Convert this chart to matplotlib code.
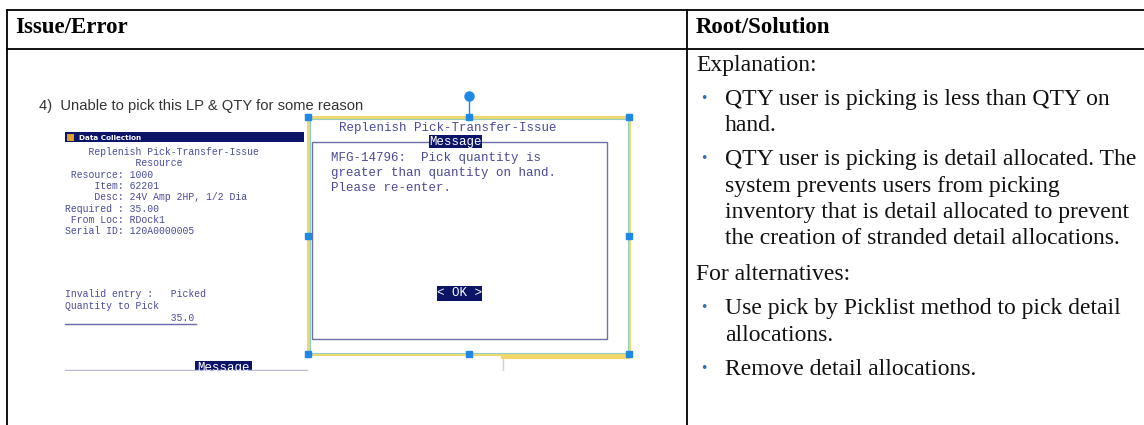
import matplotlib.pyplot as plt
from matplotlib.patches import Rectangle

# table text
headers = ["Issue/Error", "Root/Solution"]
caption = "4)  Unable to pick this LP & QTY for some reason"
screen_title = "Data Collection"
screen_lines = ["    Replenish Pick-Transfer-Issue", "            Resource",
                " Resource: 1000", "     Item: 62201",
                "     Desc: 24V Amp 2HP, 1/2 Dia", "Required : 35.00",
                " From Loc: RDock1", "Serial ID: 120A0000005"]
entry_lines = ["Invalid entry :   Picked", "Quantity to Pick", "                  35.0"]
dialog_title = "Replenish Pick-Transfer-Issue"
dialog_lines = ["MFG-14796:  Pick quantity is", "greater than quantity on hand.",
                "Please re-enter."]
explanation = "Explanation:"
explanation_items = [["QTY user is picking is less than QTY on", "hand."],
                     ["QTY user is picking is detail allocated. The",
                      "system prevents users from picking",
                      "inventory that is detail allocated to prevent",
                      "the creation of stranded detail allocations."]]
alternatives = "For alternatives:"
alternative_items = [["Use pick by Picklist method to pick detail", "allocations."],
                     ["Remove detail allocations."]]

W, H = 1144, 425
fig = plt.figure(figsize=(W / 100, H / 100), dpi=100)
ax = fig.add_axes([0, 0, 1, 1])
ax.set_xlim(0, W)
ax.set_ylim(H, 0)
ax.axis('off')

serif = 'Liberation Serif'
mono = 'Liberation Mono'
sans = 'Liberation Sans'
navy = '#0b1466'
ink = '#4a4a9a'

# table frame
lc = 'black'
ax.plot([7, W], [10, 10], color=lc, lw=1.3, zorder=10)
ax.plot([7, W], [49, 49], color=lc, lw=1.3, zorder=10)
ax.plot([7, 7], [10, H], color=lc, lw=1.3, zorder=10)
ax.plot([687, 687], [10, H], color=lc, lw=1.3, zorder=10)

ax.text(15, 33, headers[0], family=serif, weight='bold', fontsize=16.5, va='baseline')
ax.text(696, 33, headers[1], family=serif, weight='bold', fontsize=16.5, va='baseline')

# ---- left cell: screenshot ----
ax.text(39, 110, caption, family=sans, fontsize=10.6, color='#333333', va='baseline')

# data collection window
ax.add_patch(Rectangle((65, 132), 239, 10, facecolor=navy, edgecolor='none'))
ax.add_patch(Rectangle((67, 133.5), 7, 7, facecolor='#e0a030', edgecolor='none'))
ax.text(79, 137.5, screen_title, family='DejaVu Sans', weight='bold', fontsize=5.2,
        color='white', va='center')
for i, s in enumerate(screen_lines):
    ax.text(65, 152 + i * 11.3, s, family=mono, fontsize=7, color=ink, va='center')
for i, s in enumerate(entry_lines):
    ax.text(65, 294 + i * 12, s, family=mono, fontsize=7, color=ink, va='center')
ax.plot([65, 196], [324, 324], color='#6a6aaa', lw=1)

# bottom strip of the screenshot
ax.plot([65, 307], [369.5, 369.5], color='#b8b8d8', lw=1)
ax.add_patch(Rectangle((195, 361), 57, 10, facecolor=navy, edgecolor='none'))
ax.text(223.5, 368, "Message", family=mono, fontsize=9, color='white', ha='center',
        va='center', zorder=3)
ax.add_patch(Rectangle((8, 370.5), 678, 60, facecolor='white', edgecolor='none', zorder=5))
ax.plot([503, 503], [357, 370], color='#d0d0d0', lw=1)
ax.plot([503, 628], [357, 357], color='#f2d66a', lw=3)

# message dialog
ax.text(339, 128, dialog_title, family=mono, fontsize=9, color=ink, va='center')
ax.add_patch(Rectangle((312, 142), 295, 197, facecolor='none', edgecolor='#6f6fa8', lw=1))
ax.add_patch(Rectangle((429, 135), 53, 13, facecolor=navy, edgecolor='none'))
ax.text(455.5, 141.5, "Message", family=mono, fontsize=9, color='white', ha='center', va='center')
for i, s in enumerate(dialog_lines):
    ax.text(331, 158 + i * 15, s, family=mono, fontsize=9, color=ink, va='center')
ax.add_patch(Rectangle((437, 286), 45, 15, facecolor=navy, edgecolor='none'))
ax.text(459.5, 293.5, "< OK >", family=mono, fontsize=9, color='white', ha='center', va='center')

# selection frame with handles
ax.add_patch(Rectangle((308, 117), 321, 237, facecolor='none', edgecolor='#efd770', lw=2.2))
ax.add_patch(Rectangle((309.5, 118.5), 318, 234, facecolor='none', edgecolor='#8fcfc6', lw=0.8))
ax.plot([469, 469], [96, 117], color='#1e88e5', lw=1)
ax.plot([469], [96], marker='o', ms=6.5, color='#1e88e5', mec='#1e88e5')
hx = [308, 469, 629, 308, 629, 308, 469, 629]
hy = [117, 117, 117, 236, 236, 354, 354, 354]
ax.plot(hx, hy, ls='none', marker='s', ms=4.5, color='#1e88e5', mec='#1e88e5')

# ---- right cell ----
body = dict(family=serif, fontsize=17, color='#111111', va='baseline')
bullet = dict(family='DejaVu Sans', fontsize=9, color='#2e6cb5', va='baseline')
step = 26.3   # line to line
para = 34     # paragraph to paragraph

y = 71
ax.text(696, y, explanation, **body)
for item in explanation_items:
    y += para
    ax.text(700, y - 3, "\u2022", **bullet)
    for j, line in enumerate(item):
        if j:
            y += step
        ax.text(725, y, line, **body)
y += para + 2
ax.text(696, y, alternatives, **body)
for item in alternative_items:
    y += para
    ax.text(700, y - 3, "\u2022", **bullet)
    for j, line in enumerate(item):
        if j:
            y += step
        ax.text(725, y, line, **body)

fig.savefig('out.png', dpi=100)
